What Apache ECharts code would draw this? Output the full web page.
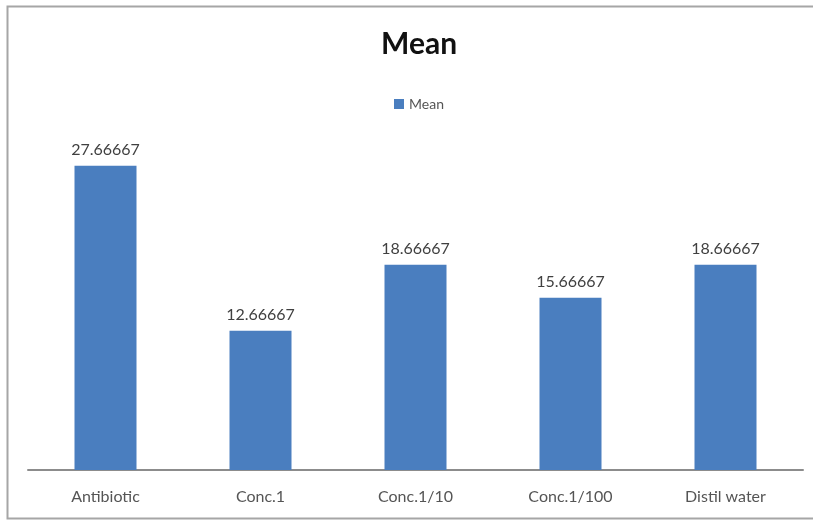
<!DOCTYPE html>
<html>
<head>
<meta charset="utf-8">
<script src="https://cdn.jsdelivr.net/npm/echarts@6/dist/echarts.min.js"></script>
<style>
  html, body { margin: 0; padding: 0; background: #fff; overflow: hidden; }
  #chart { width: 813px; height: 521px; }
</style>
</head>
<body>
<div id="chart"></div>
<script>
// Treatment groups and their mean values
const categories = ['Antibiotic', 'Conc.1', 'Conc.1/10', 'Conc.1/100', 'Distil water'];
const meanValues = [27.66667, 12.66667, 18.66667, 15.66667, 18.66667];
const seriesName = 'Mean';

const chart = echarts.init(document.getElementById('chart'), null, { renderer: 'canvas' });

const fontFamily = 'Lato, "Open Sans", sans-serif';

chart.setOption({
  backgroundColor: '#ffffff',
  animation: false,
  graphic: [{
    type: 'rect',
    shape: { x: 7.5, y: 6.5, width: 900, height: 512 },
    style: { fill: 'none', stroke: '#a6a6a6', lineWidth: 2 },
    silent: true
  }],
  title: {
    text: 'Mean',
    left: 376,
    top: 24,
    textStyle: { fontFamily: fontFamily, fontSize: 30, fontWeight: 'bold', color: '#111111' }
  },
  legend: {
    data: [seriesName],
    top: 92,
    left: 389,
    itemWidth: 10,
    itemHeight: 10,
    itemGap: 4,
    icon: 'rect',
    textStyle: { fontFamily: fontFamily, fontSize: 14, color: '#555555' }
  },
  grid: { left: 28, right: 10, top: 140, bottom: 51 },
  xAxis: {
    type: 'category',
    data: categories,
    axisLine: { show: true, lineStyle: { color: '#8c8c8c', width: 2 } },
    axisTick: { show: false },
    axisLabel: { fontFamily: fontFamily, fontSize: 16, color: '#555555', margin: 19 }
  },
  yAxis: {
    type: 'value',
    min: 0,
    max: 30,
    show: false,
    splitLine: { show: false }
  },
  series: [{
    name: seriesName,
    type: 'bar',
    data: meanValues,
    barWidth: '40%',
    itemStyle: { color: '#4A7EBF' },
    label: {
      show: true,
      position: 'top',
      distance: 8,
      formatter: p => p.value.toFixed(5),
      fontFamily: fontFamily,
      fontSize: 16,
      color: '#404040'
    }
  }]
});
</script>
</body>
</html>
